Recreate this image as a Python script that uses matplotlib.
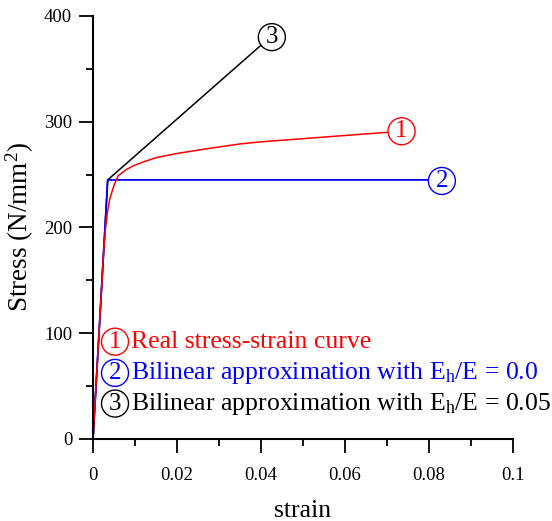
import matplotlib
matplotlib.use('Agg')
import matplotlib.pyplot as plt
from matplotlib.ticker import MultipleLocator, FormatStrFormatter

plt.rcParams['font.family'] = 'Liberation Serif'
plt.rcParams['mathtext.fontset'] = 'custom'
plt.rcParams['mathtext.rm'] = 'Liberation Serif'
plt.rcParams['mathtext.it'] = 'Liberation Serif:italic'

# real curve
real_strain = [0, 0.0025, 0.003, 0.0035, 0.004, 0.005, 0.006, 0.008, 0.010, 0.012,
               0.015, 0.020, 0.028, 0.035, 0.040, 0.050, 0.060, 0.070]
real_stress = [0, 175, 200, 216, 227, 240, 249, 255, 259, 262,
               266, 270, 275, 279, 281, 284, 287, 290]

# bilinear, Eh/E = 0.0
bi0_strain = [0, 0.0035, 0.0800]
bi0_stress = [0, 245, 245]

# bilinear, Eh/E = 0.05
bi5_strain = [0, 0.0035, 0.0402]
bi5_stress = [0, 245, 373]

labels = ['Real stress-strain curve',
          'Bilinear approximation with E$_\\mathrm{h}$/E = 0.0',
          'Bilinear approximation with E$_\\mathrm{h}$/E = 0.05']
colors = ['red', 'blue', 'black']

fig = plt.figure(figsize=(5.52, 5.21), dpi=100)
ax = fig.add_axes([0.1685, 0.1574, 0.7605, 0.8119])

ax.plot(bi5_strain, bi5_stress, color='black', lw=1.1)
ax.plot(bi0_strain, bi0_stress, color='blue', lw=1.3)
ax.plot(real_strain, real_stress, color='red', lw=1.1)

def circ(x, y, num, c):
    ax.text(x, y, num, color=c, fontsize=18, ha='center', va='center',
            bbox=dict(boxstyle='circle,pad=0.1', fc='white', ec=c, lw=1.0),
            clip_on=False)

# labels at line ends
circ(0.0735, 291, '1', 'red')
circ(0.0831, 244, '2', 'blue')
circ(0.0426, 380, '3', 'black')

# legend-ish text
ys = [92, 62.5, 33.5]
for i in range(3):
    circ(0.00524, ys[i], str(i + 1), colors[i])
    ax.text(0.0090, ys[i], labels[i], color=colors[i], fontsize=18.5,
            ha='left', va='center')

ax.set_xlim(0, 0.1)
ax.set_ylim(0, 400)
ax.xaxis.set_major_locator(MultipleLocator(0.02))
ax.xaxis.set_minor_locator(MultipleLocator(0.01))
ax.yaxis.set_major_locator(MultipleLocator(100))
ax.yaxis.set_minor_locator(MultipleLocator(50))
ax.xaxis.set_major_formatter(FormatStrFormatter('%g'))

for s in ['top', 'right']:
    ax.spines[s].set_visible(False)
for s in ['left', 'bottom']:
    ax.spines[s].set_linewidth(1.5)
ax.tick_params(which='major', length=10, width=1.3, labelsize=13.5, pad=10)
ax.tick_params(which='minor', length=5, width=1.3)
ax.tick_params(axis='y', which='major', pad=5)

ax.set_xlabel('strain', fontsize=18.5, labelpad=12)
fig.text(20 / 552, 1 - 227 / 521, 'Stress (N/mm$^2$)', fontsize=19.5,
         rotation=90, ha='center', va='center')

fig.savefig('out.png', dpi=100)
